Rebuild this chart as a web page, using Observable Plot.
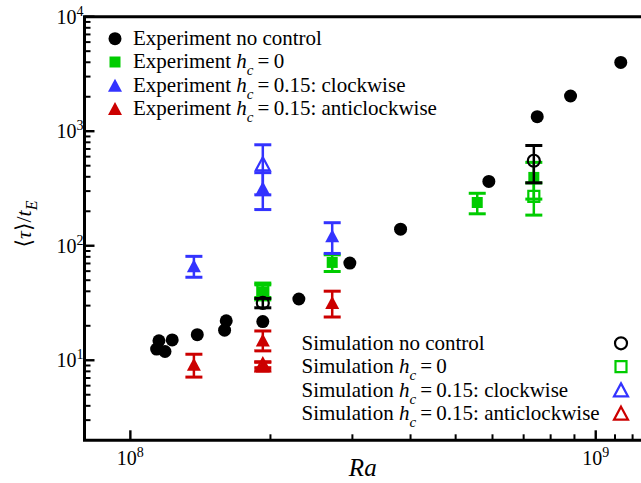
<!DOCTYPE html>
<html>
<head>
<meta charset="utf-8">
<script src="https://cdn.jsdelivr.net/npm/d3@7"></script>
<script src="https://cdn.jsdelivr.net/npm/@observablehq/plot@0.6"></script>
<style>
  body { margin: 0; background: #fff; }
  #chart svg { font-family: "Liberation Serif", "Times New Roman", "DejaVu Serif", serif; }
</style>
</head>
<body>
<div id="chart"></div>
<script>
// Mean reorientation time <tau>/t_E versus Rayleigh number Ra.
// Error bars are +/- one standard deviation (0 = no bar).

// Experiment, no control
const expNoCtrlRa  = [1.136e8, 1.149e8, 1.184e8, 1.227e8, 1.389e8, 1.590e8, 1.603e8, 1.921e8, 2.296e8, 2.955e8, 3.798e8, 5.878e8, 7.468e8, 8.806e8, 1.129e9];
const expNoCtrlTau = [12.65, 14.95, 12.05, 15.2, 16.9, 18.5, 22.3, 22.0, 34.6, 71.3, 140.8, 368, 1352, 2051, 4028];
const expNoCtrlErr = [0, 0, 0, 0, 0, 0, 0, 0, 0, 0, 0, 0, 0, 0, 0];

// Experiment, h_c = 0
const expH0Ra  = [1.921e8, 2.708e8, 5.55e8, 7.343e8];
const expH0Tau = [40, 72.2, 241, 399];
const expH0Err = [6, 12, 49, 141];

// Experiment, h_c = 0.15, clockwise
const expCwRa  = [1.366e8, 1.921e8, 2.708e8];
const expCwTau = [67.6, 324, 123.5];
const expCwErr = [14, 115, 37];

// Experiment, h_c = 0.15, anticlockwise
const expAcwRa  = [1.366e8, 1.921e8, 1.921e8, 2.708e8];
const expAcwTau = [9.3, 15.2, 9.0, 32.3];
const expAcwErr = [2.1, 3.0, 0.8, 8.2];

// Simulation, no control
const simNoCtrlRa  = [1.921e8, 7.343e8];
const simNoCtrlTau = [32, 558];
const simNoCtrlErr = [3, 200];

// Simulation, h_c = 0
const simH0Ra  = [1.921e8, 7.343e8];
const simH0Tau = [41.7, 272];
const simH0Err = [6, 85];

// Simulation, h_c = 0.15, clockwise
const simCwRa  = [1.921e8];
const simCwTau = [525];
const simCwErr = [244];

// Simulation, h_c = 0.15, anticlockwise
const simAcwRa  = [1.921e8];
const simAcwTau = [9.2];
const simAcwErr = [0.5];

// Axis ticks
const xMajorTicks = [1e8, 1e9];
const xMinorTicks = [2e8, 3e8, 4e8, 5e8, 6e8, 7e8, 8e8, 9e8, 1.1e9, 1.2e9];
const yMajorTicks = [1e1, 1e2, 1e3, 1e4];
const yMinorTicks = [3, 4, 5, 6, 7, 8, 9, 20, 30, 40, 50, 60, 70, 80, 90,
                     200, 300, 400, 500, 600, 700, 800, 900, 2000, 3000, 4000, 5000, 6000, 7000, 8000, 9000];
const xTickExponents = [8, 9];
const yTickExponents = [1, 2, 3, 4];

// Colours
const BLACK = "#000000", GREEN = "#00cc00", BLUE = "#3333ff", RED = "#cc0000";

// Marker shapes; size is pi*r^2, so r is recovered as the half-width
const half = size => Math.sqrt(size / Math.PI);
const circleSym = { draw(ctx, size) { const r = half(size); ctx.moveTo(r, 0); ctx.arc(0, 0, r, 0, 2 * Math.PI); ctx.closePath(); } };
const squareSym = { draw(ctx, size) { const r = half(size); ctx.moveTo(-r, -r); ctx.lineTo(r, -r); ctx.lineTo(r, r); ctx.lineTo(-r, r); ctx.closePath(); } };
const triangleSym = { draw(ctx, size) { const r = half(size); ctx.moveTo(0, -0.93 * r); ctx.lineTo(r, 0.93 * r); ctx.lineTo(-r, 0.93 * r); ctx.closePath(); } };
const capSym = { draw(ctx, size) { const r = half(size); ctx.moveTo(-r, 0); ctx.lineTo(r, 0); } };

const series = [
  { name: "Experiment no control", Ra: expNoCtrlRa, tau: expNoCtrlTau, err: expNoCtrlErr, color: BLACK, sym: circleSym, r: 6.5, open: false },
  { name: "Experiment h_c = 0", Ra: expH0Ra, tau: expH0Tau, err: expH0Err, color: GREEN, sym: squareSym, r: 5.5, open: false },
  { name: "Experiment h_c = 0.15: clockwise", Ra: expCwRa, tau: expCwTau, err: expCwErr, color: BLUE, sym: triangleSym, r: 7, open: false },
  { name: "Experiment h_c = 0.15: anticlockwise", Ra: expAcwRa, tau: expAcwTau, err: expAcwErr, color: RED, sym: triangleSym, r: 7, open: false },
  { name: "Simulation h_c = 0", Ra: simH0Ra, tau: simH0Tau, err: simH0Err, color: GREEN, sym: squareSym, r: 5.5, open: true },
  { name: "Simulation no control", Ra: simNoCtrlRa, tau: simNoCtrlTau, err: simNoCtrlErr, color: BLACK, sym: circleSym, r: 6, open: true },
  { name: "Simulation h_c = 0.15: clockwise", Ra: simCwRa, tau: simCwTau, err: simCwErr, color: BLUE, sym: triangleSym, r: 7, open: true },
  { name: "Simulation h_c = 0.15: anticlockwise", Ra: simAcwRa, tau: simAcwTau, err: simAcwErr, color: RED, sym: triangleSym, r: 7, open: true }
];

const rowsOf = s => s.Ra.map((Ra, i) => ({ Ra, tau: s.tau[i], err: s.err[i] }));

const marks = [];
for (const s of series) {
  const rows = rowsOf(s);
  const withErr = rows.filter(d => d.err > 0);
  const caps = withErr.flatMap(d => [{ Ra: d.Ra, tau: d.tau - d.err }, { Ra: d.Ra, tau: d.tau + d.err }]);
  marks.push(Plot.ruleX(withErr, { x: "Ra", y1: d => d.tau - d.err, y2: d => d.tau + d.err, stroke: s.color, strokeWidth: 2.5 }));
  marks.push(Plot.dot(caps, { x: "Ra", y: "tau", symbol: capSym, r: 8.5, stroke: s.color, strokeWidth: 3, fill: "none" }));
  marks.push(Plot.dot(rows, s.open
    ? { x: "Ra", y: "tau", symbol: s.sym, r: s.r, stroke: s.color, strokeWidth: 2.2, fill: "none" }
    : { x: "Ra", y: "tau", symbol: s.sym, r: s.r, fill: s.color, stroke: "none" }));
}

const plot = Plot.plot({
  width: 641,
  height: 483,
  marginLeft: 84.5,
  marginRight: 0,
  marginTop: 16.7,
  marginBottom: 42.7,
  style: { background: "#fff", overflow: "visible" },
  x: { type: "log", domain: [7.97e7, 1.251e9], axis: null },
  y: { type: "log", domain: [2, 1e4], axis: null },
  marks
});

document.getElementById("chart").appendChild(plot);

// Frame, inward ticks, tick labels, titles and legends
const svg = d3.select(plot);
const xs = plot.scale("x"), ys = plot.scale("y");
const X = v => xs.apply(v), Y = v => ys.apply(v);
const [x0, x1] = xs.range, [y0, y1] = ys.range; // y0 bottom, y1 top

const axes = svg.append("g").attr("stroke", BLACK).attr("fill", "none");
axes.append("path").attr("d", `M${x1 + 2},${y1}H${x0}V${y0}H${x1 + 2}`).attr("stroke-width", 3).attr("stroke-linecap", "square");
for (const v of xMajorTicks) axes.append("line").attr("x1", X(v)).attr("x2", X(v)).attr("y1", y0).attr("y2", y0 - 10).attr("stroke-width", 2.4);
for (const v of xMinorTicks) axes.append("line").attr("x1", X(v)).attr("x2", X(v)).attr("y1", y0).attr("y2", y0 - 6).attr("stroke-width", 2);
for (const v of yMajorTicks) axes.append("line").attr("y1", Y(v)).attr("y2", Y(v)).attr("x1", x0).attr("x2", x0 + 10).attr("stroke-width", 2.4);
for (const v of yMinorTicks) axes.append("line").attr("y1", Y(v)).attr("y2", Y(v)).attr("x1", x0).attr("x2", x0 + 6).attr("stroke-width", 2);

const labels = svg.append("g").attr("fill", BLACK).attr("font-size", 20);
xMajorTicks.forEach((v, i) => {
  const t = labels.append("text").attr("x", X(v)).attr("y", y0 + 25).attr("text-anchor", "middle");
  t.append("tspan").text("10");
  t.append("tspan").attr("font-size", 14).attr("dy", -8).text(xTickExponents[i]);
});
yMajorTicks.forEach((v, i) => {
  const t = labels.append("text").attr("x", x0 - 1).attr("y", Y(v) + 7).attr("text-anchor", "end");
  t.append("tspan").text("10");
  t.append("tspan").attr("font-size", 14).attr("dy", -8).text(yTickExponents[i]);
});

// Axis titles
svg.append("text").attr("x", (x0 + x1) / 2).attr("y", 476).attr("text-anchor", "middle")
  .attr("font-size", 25).attr("font-style", "italic").text("Ra");
const yt = svg.append("text").attr("transform", "translate(31,224) rotate(-90)").attr("text-anchor", "middle").attr("font-size", 22);
yt.append("tspan").text("\u27E8");
yt.append("tspan").attr("font-style", "italic").text("\u03C4");
yt.append("tspan").text("\u27E9/");
yt.append("tspan").attr("font-style", "italic").text("t");
yt.append("tspan").attr("font-style", "italic").attr("font-size", 16).attr("dy", 6).text("E");

// Legend label with italic h and subscript c
function legendText(g, x, y, prefix, suffix) {
  const t = g.append("text").attr("x", x).attr("y", y).attr("font-size", 21).attr("fill", BLACK).attr("text-anchor", "start");
  t.append("tspan").text(prefix);
  if (suffix !== null) {
    t.append("tspan").attr("font-style", "italic").text("h");
    t.append("tspan").attr("font-style", "italic").attr("font-size", 15).attr("dy", 7).text("c");
    t.append("tspan").attr("dy", -7).text("\u2009=\u2009" + suffix);
  }
}
function legendMarker(g, x, y, s) {
  const p = g.append("path").attr("transform", `translate(${x},${y})`)
    .attr("d", d3.symbol(s.sym, Math.PI * s.r * s.r)());
  if (s.open) p.attr("fill", "none").attr("stroke", s.color).attr("stroke-width", 2.2);
  else p.attr("fill", s.color);
}

const legendTop = svg.append("g");
const topEntries = [
  [series[0], "Experiment no control", null],
  [series[1], "Experiment ", "0"],
  [series[2], "Experiment ", "0.15: clockwise"],
  [series[3], "Experiment ", "0.15: anticlockwise"]
];
topEntries.forEach(([s, pre, suf], i) => {
  const base = 45 + i * 23.3;
  legendMarker(legendTop, 115, base - 6.3, s);
  legendText(legendTop, 133, base, pre, suf);
});

const legendBottom = svg.append("g");
const bottomEntries = [
  [series[5], "Simulation no control", null],
  [series[4], "Simulation ", "0"],
  [series[6], "Simulation ", "0.15: clockwise"],
  [series[7], "Simulation ", "0.15: anticlockwise"]
];
bottomEntries.forEach(([s, pre, suf], i) => {
  const base = 350 + i * 23.3;
  legendMarker(legendBottom, 621, base - 6.7, s);
  legendText(legendBottom, 301.5, base, pre, suf);
});
</script>
</body>
</html>
